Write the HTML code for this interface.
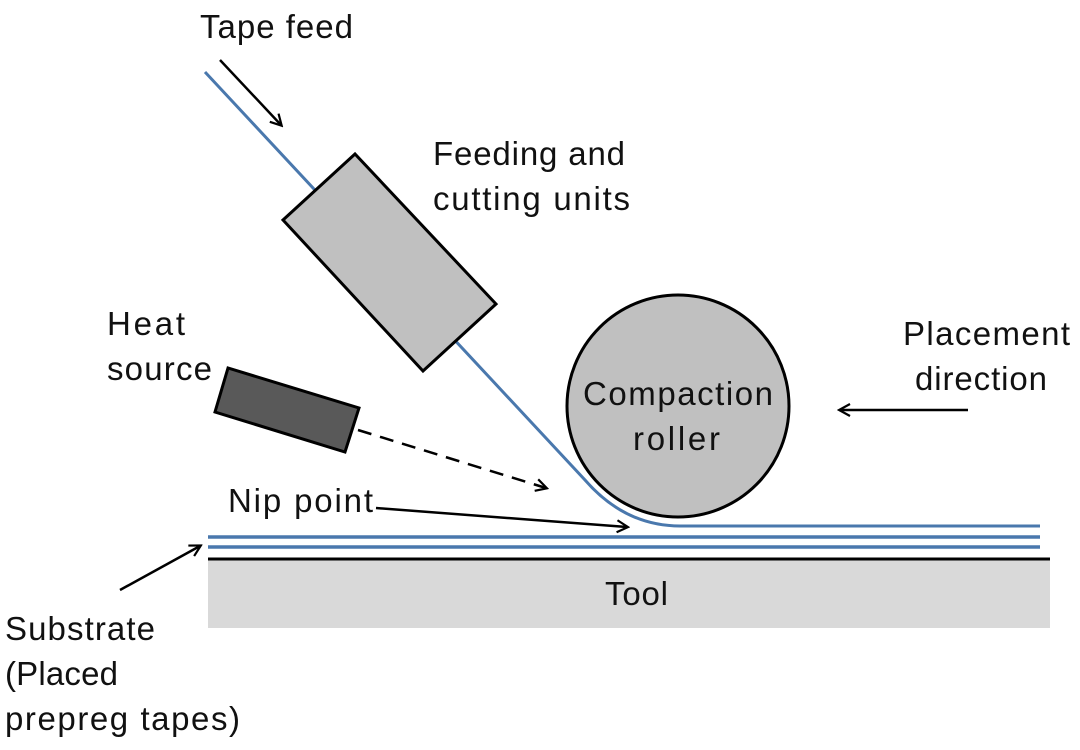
<!DOCTYPE html>
<html><head><meta charset="utf-8"><style>body{margin:0;background:#fff}svg{display:block}text{font-family:"Liberation Sans",sans-serif;font-size:33px;fill:#111}</style></head>
<body>
<svg width="1080" height="750" viewBox="0 0 1080 750" xmlns="http://www.w3.org/2000/svg">
<defs><marker id="a" markerWidth="14" markerHeight="14" refX="11" refY="7" orient="auto" markerUnits="userSpaceOnUse"><path d="M1,1 L12,7 L1,13" fill="none" stroke="#000" stroke-width="2.2"/></marker></defs>
<rect x="208" y="559" width="842" height="69" fill="#d9d9d9"/>
<line x1="208" y1="559" x2="1050" y2="559" stroke="#000" stroke-width="3"/>
<g stroke="#4a78ad" stroke-width="3.5" fill="none">
<line x1="208" y1="537" x2="1040" y2="537"/>
<line x1="208" y1="547" x2="1040" y2="547"/>
</g>
<circle cx="678" cy="406" r="111" fill="#c0c0c0" stroke="#000" stroke-width="3"/>
<path d="M205,72 L585,480 Q625,526 680,526 L1040,526" fill="none" stroke="#4a78ad" stroke-width="3"/>
<polygon points="355,154 283,220 423,371 496,304" fill="#c0c0c0" stroke="#000" stroke-width="3"/>
<polygon points="228,368 215,412 345,452 359,408" fill="#595959" stroke="#000" stroke-width="3"/>
<line x1="358" y1="430" x2="546" y2="488" stroke="#000" stroke-width="2.5" stroke-dasharray="14,9" marker-end="url(#a)"/>
<line x1="376" y1="508" x2="627" y2="527" stroke="#000" stroke-width="2.5" marker-end="url(#a)"/>
<line x1="220" y1="60" x2="281" y2="125" stroke="#000" stroke-width="2.5" marker-end="url(#a)"/>
<line x1="968" y1="410" x2="840" y2="410" stroke="#000" stroke-width="2.5" marker-end="url(#a)"/>
<line x1="120" y1="590" x2="200" y2="546" stroke="#000" stroke-width="2.5" marker-end="url(#a)"/>
<text x="200" y="38" textLength="153">Tape feed</text>
<text x="433" y="165" textLength="192">Feeding and</text>
<text x="433" y="210" textLength="197">cutting units</text>
<text x="107" y="335" textLength="78">Heat</text>
<text x="107" y="380" textLength="105">source</text>
<text x="903" y="345" textLength="167">Placement</text>
<text x="915" y="390" textLength="132">direction</text>
<text x="583" y="405" textLength="190">Compaction</text>
<text x="633" y="450" textLength="87">roller</text>
<text x="228" y="512" textLength="145">Nip point</text>
<text x="605" y="605" textLength="63">Tool</text>
<text x="5" y="640" textLength="150">Substrate</text>
<text x="5" y="685" textLength="113">(Placed</text>
<text x="5" y="730" textLength="235">prepreg tapes)</text>
</svg>
</body></html>
